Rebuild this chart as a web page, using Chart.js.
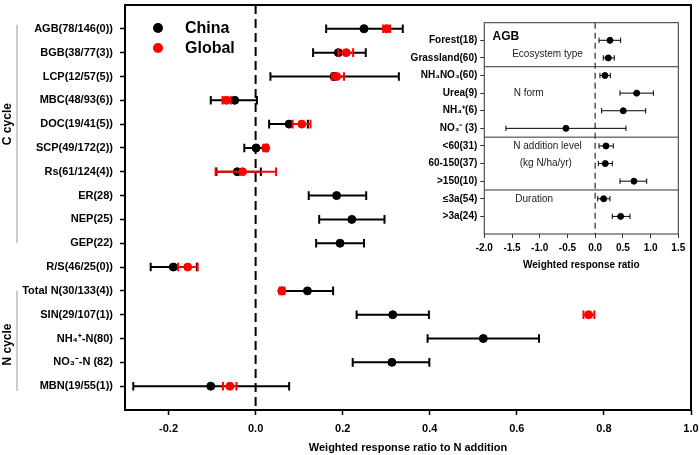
<!DOCTYPE html>
<html>
<head>
<meta charset="utf-8">
<script src="https://cdn.jsdelivr.net/npm/chart.js@4/dist/chart.umd.min.js"></script>
<style>
  html, body { margin: 0; padding: 0; background: #fff; }
  #wrap  { position: relative; width: 700px; height: 455px; }
  #main  { position: absolute; left: 0; top: 0; }
  #inset { position: absolute; left: 383px; top: 12px; }
</style>
</head>
<body>
<div id="wrap">
  <canvas id="main" width="700" height="455"></canvas>
  <canvas id="inset" width="305" height="262"></canvas>
</div>
<script>
// 1️⃣ Data
const mainLabels = ["AGB(78/146(0))", "BGB(38/77(3))", "LCP(12/57(5))", "MBC(48/93(6))",
  "DOC(19/41(5))", "SCP(49/172(2))", "Rs(61/124(4))", "ER(28)", "NEP(25)", "GEP(22)",
  "R/S(46/25(0))", "Total N(30/133(4))", "SIN(29/107(1))", "NH₄⁺-N(80)", "NO₃⁻-N (82)", "MBN(19/55(1))"];

const chinaMean = [0.249, 0.190, 0.180, -0.048, 0.077, 0.001, -0.042, 0.186, 0.221, 0.194, -0.189, 0.119, 0.315, 0.523, 0.313, -0.103];
const chinaLow  = [0.162, 0.132, 0.034, -0.103, 0.031, -0.026, -0.090, 0.122, 0.146, 0.139, -0.241, 0.060, 0.232, 0.395, 0.223, -0.281];
const chinaHigh = [0.338, 0.253, 0.329, 0.003, 0.120, 0.025, 0.012, 0.254, 0.296, 0.249, -0.135, 0.178, 0.398, 0.651, 0.399, 0.077];

const globalMean = [0.301, 0.208, 0.186, -0.067, 0.106, 0.023, -0.030, null, null, null, -0.156, 0.060, 0.765, null, null, -0.059];
const globalLow  = [0.293, 0.190, 0.175, -0.076, 0.085, 0.018, -0.092, null, null, null, -0.178, 0.055, 0.753, null, null, -0.075];
const globalHigh = [0.309, 0.224, 0.203, -0.057, 0.126, 0.028, 0.047, null, null, null, -0.133, 0.066, 0.778, null, null, -0.044];

const mainTicks = [-0.2, 0.0, 0.2, 0.4, 0.6, 0.8, 1.0];

const insetLabels = ["Forest(18)", "Grassland(60)", "NH₄NO₃(60)", "Urea(9)", "NH₄⁺(6)", "NO₃⁻ (3)",
  "<60(31)", "60-150(37)", ">150(10)", "≤3a(54)", ">3a(24)"];
const insetMean = [0.267, 0.237, 0.177, 0.749, 0.507, -0.527, 0.195, 0.183, 0.700, 0.153, 0.460];
const insetLow  = [0.070, 0.147, 0.087, 0.448, 0.117, -1.610, 0.069, 0.057, 0.448, 0.045, 0.309];
const insetHigh = [0.460, 0.345, 0.273, 1.050, 0.911, 0.556, 0.327, 0.309, 0.930, 0.267, 0.628];
const insetTicks = [-2.0, -1.5, -1.0, -0.5, 0.0, 0.5, 1.0, 1.5];

const FONT = "'Liberation Sans', Arial, sans-serif";

// turn arrays into {x, y, lo, hi} points, skipping missing values
function toPoints(mean, lo, hi) {
  const pts = [];
  mean.forEach((v, i) => {
    if (v == null) return;
    pts.push({ x: v, y: i, lo: lo[i], hi: hi[i] });
  });
  return pts;
}

// scales otherwise reserve room for half a label + padding at each end
function noEdgePadding(s) {
  s.paddingTop = 0; s.paddingBottom = 0;
  s.paddingLeft = 0; s.paddingRight = 0;
}

// 2️⃣ Plugins: error bars, zero line, frame, legend, group brackets
const errorBars = {
  id: "errorBars",
  beforeDatasetDraw(chart, args, opts) {
    const ds = chart.data.datasets[args.index];
    const xs = chart.scales.x, ys = chart.scales.y, ctx = chart.ctx;
    ctx.save();
    ctx.strokeStyle = ds.backgroundColor;
    ctx.lineWidth = opts.width;
    ds.data.forEach(p => {
      const y = ys.getPixelForValue(p.y);
      const x1 = xs.getPixelForValue(p.lo), x2 = xs.getPixelForValue(p.hi);
      ctx.beginPath();
      ctx.moveTo(x1, y); ctx.lineTo(x2, y);
      ctx.moveTo(x1, y - opts.cap); ctx.lineTo(x1, y + opts.cap);
      ctx.moveTo(x2, y - opts.cap); ctx.lineTo(x2, y + opts.cap);
      ctx.stroke();
    });
    ctx.restore();
  }
};

const frame = {
  id: "frame",
  beforeDatasetsDraw(chart, args, opts) {
    const { ctx, chartArea: a } = chart;
    const x0 = chart.scales.x.getPixelForValue(0);
    ctx.save();
    ctx.strokeStyle = opts.zeroColor;
    ctx.lineWidth = opts.zeroWidth;
    ctx.setLineDash(opts.dash);
    ctx.beginPath();
    ctx.moveTo(x0, a.top); ctx.lineTo(x0, a.bottom);
    ctx.stroke();
    ctx.setLineDash([]);
    // horizontal separators (inset only)
    (opts.separators || []).forEach(v => {
      const y = chart.scales.y.getPixelForValue(v);
      ctx.strokeStyle = opts.borderColor;
      ctx.lineWidth = 1;
      ctx.beginPath();
      ctx.moveTo(a.left, y); ctx.lineTo(a.right, y);
      ctx.stroke();
    });
    ctx.restore();
  },
  afterDraw(chart, args, opts) {
    const { ctx, chartArea: a } = chart;
    ctx.save();
    ctx.strokeStyle = opts.borderColor;
    ctx.lineWidth = opts.borderWidth;
    ctx.strokeRect(a.left, a.top, a.right - a.left, a.bottom - a.top);
    ctx.restore();
  }
};

const mainDecor = {
  id: "mainDecor",
  afterDraw(chart) {
    const { ctx, chartArea: a } = chart;
    const ys = chart.scales.y;
    ctx.save();
    // legend, in dataset order
    chart.data.datasets.forEach((ds, k) => {
      const y = a.top + 23 + k * 20;
      ctx.fillStyle = ds.backgroundColor;
      ctx.beginPath();
      ctx.arc(a.left + 33, y, 5, 0, Math.PI * 2);
      ctx.fill();
      ctx.fillStyle = "#000";
      ctx.font = "bold 16px " + FONT;
      ctx.textBaseline = "middle";
      ctx.fillText(ds.label, a.left + 60, y + 1);
    });
    // C cycle / N cycle brackets
    const groups = [
      { text: "C cycle", from: -0.17, to: 9.0, mid: 4.0 },
      { text: "N cycle", from: 11.0, to: 15.2, mid: 13.25 }
    ];
    groups.forEach(g => {
      ctx.strokeStyle = "#999";
      ctx.lineWidth = 1;
      ctx.beginPath();
      ctx.moveTo(17, ys.getPixelForValue(g.from));
      ctx.lineTo(17, ys.getPixelForValue(g.to));
      ctx.stroke();
      ctx.save();
      ctx.translate(8, ys.getPixelForValue(g.mid));
      ctx.rotate(-Math.PI / 2);
      ctx.fillStyle = "#000";
      ctx.font = "bold 12px " + FONT;
      ctx.textAlign = "center";
      ctx.textBaseline = "middle";
      ctx.fillText(g.text, 0, 0);
      ctx.restore();
    });
    ctx.restore();
  }
};

const insetDecor = {
  id: "insetDecor",
  afterDraw(chart) {
    const { ctx } = chart;
    const xs = chart.scales.x, ys = chart.scales.y;
    ctx.save();
    ctx.fillStyle = "#000";
    ctx.font = "bold 12px " + FONT;
    ctx.textBaseline = "middle";
    ctx.fillText("AGB", xs.getPixelForValue(-1.85), ys.getPixelForValue(-0.2));
    ctx.font = "10px " + FONT;
    ctx.fillStyle = "#222";
    ctx.textAlign = "center";
    const notes = [
      ["Ecosystem type", -0.86, 0.8],
      ["N form", -1.2, 3.0],
      ["N addition level", -0.86, 6.0],
      ["(kg N/ha/yr)", -0.89, 7.0],
      ["Duration", -1.1, 9.0]
    ];
    notes.forEach(n => ctx.fillText(n[0], xs.getPixelForValue(n[1]), ys.getPixelForValue(n[2])));
    ctx.restore();
  }
};

// 3️⃣ Main forest plot
const boldFont = size => ({ family: FONT, size: size, weight: "bold" });

new Chart(document.getElementById("main"), {
  type: "scatter",
  data: {
    datasets: [
      { label: "China", data: toPoints(chinaMean, chinaLow, chinaHigh),
        backgroundColor: "#000", borderColor: "#000", pointRadius: 4, pointBorderWidth: 1, order: 2 },
      { label: "Global", data: toPoints(globalMean, globalLow, globalHigh),
        backgroundColor: "#ff0000", borderColor: "#ff0000", pointRadius: 4, pointBorderWidth: 1, order: 1 }
    ]
  },
  options: {
    responsive: false,
    devicePixelRatio: 1,
    animation: false,
    events: [],
    layout: { padding: { top: 2, right: 9, left: 0, bottom: 0 } },
    plugins: {
      legend: { display: false },
      tooltip: { enabled: false },
      errorBars: { width: 2, cap: 4.3 },
      frame: { zeroColor: "#000", zeroWidth: 2, dash: [9, 5], borderColor: "#000", borderWidth: 2 }
    },
    scales: {
      x: {
        type: "linear", min: -0.3, max: 1.0,
        afterBuildTicks: s => { s.ticks = mainTicks.map(v => ({ value: v })); },
        afterFit: s => { s.height = 45; noEdgePadding(s); },
        ticks: { callback: v => v.toFixed(1), font: boldFont(11), color: "#000", padding: 7, maxRotation: 0 },
        grid: { drawOnChartArea: false, tickLength: 5, color: "#000", tickWidth: 1.5 },
        border: { display: false },
        title: { display: true, text: "Weighted response ratio to N addition", font: boldFont(11),
                 color: "#000", padding: { top: 0, bottom: 0 } }
      },
      y: {
        type: "linear", reverse: true, min: -1, max: 16,
        afterBuildTicks: s => { s.ticks = mainLabels.map((_, i) => ({ value: i })); },
        afterFit: s => { s.width = 125; noEdgePadding(s); },
        ticks: { callback: v => mainLabels[v], font: boldFont(11), color: "#000", padding: 7, autoSkip: false },
        grid: { drawOnChartArea: false, tickLength: 5, color: "#000", tickWidth: 1.5 },
        border: { display: false }
      }
    }
  },
  plugins: [errorBars, frame, mainDecor]
});

// 4️⃣ Inset: AGB subgroups
new Chart(document.getElementById("inset"), {
  type: "scatter",
  data: {
    datasets: [
      { label: "AGB", data: toPoints(insetMean, insetLow, insetHigh),
        backgroundColor: "#000", borderColor: "#000", pointRadius: 3, pointBorderWidth: 1 }
    ]
  },
  options: {
    responsive: false,
    devicePixelRatio: 1,
    animation: false,
    events: [],
    layout: { padding: { top: 10.7, right: 9.7, left: 0, bottom: 0 } },
    plugins: {
      legend: { display: false },
      tooltip: { enabled: false },
      errorBars: { width: 1, cap: 2.7 },
      frame: { zeroColor: "#555", zeroWidth: 1.5, dash: [6, 4], borderColor: "#333", borderWidth: 1,
               separators: [1.5, 5.5, 8.5] }
    },
    scales: {
      x: {
        type: "linear", min: -2.0, max: 1.5,
        afterBuildTicks: s => { s.ticks = insetTicks.map(v => ({ value: v })); },
        afterFit: s => { s.height = 40; noEdgePadding(s); },
        ticks: { callback: v => v.toFixed(1), font: boldFont(10), color: "#000", padding: 4, maxRotation: 0 },
        grid: { drawOnChartArea: false, tickLength: 4, color: "#333" },
        border: { display: false },
        title: { display: true, text: "Weighted response ratio", font: boldFont(10),
                 color: "#000", padding: { top: 0, bottom: 3 } }
      },
      y: {
        type: "linear", reverse: true, min: -1, max: 11,
        afterBuildTicks: s => { s.ticks = insetLabels.map((_, i) => ({ value: i })); },
        afterFit: s => { s.width = 101.3; noEdgePadding(s); },
        ticks: { callback: v => insetLabels[v], font: boldFont(10), color: "#000", padding: 3, autoSkip: false },
        grid: { drawOnChartArea: false, tickLength: 4, color: "#333" },
        border: { display: false }
      }
    }
  },
  plugins: [errorBars, frame, insetDecor]
});
</script>
</body>
</html>
